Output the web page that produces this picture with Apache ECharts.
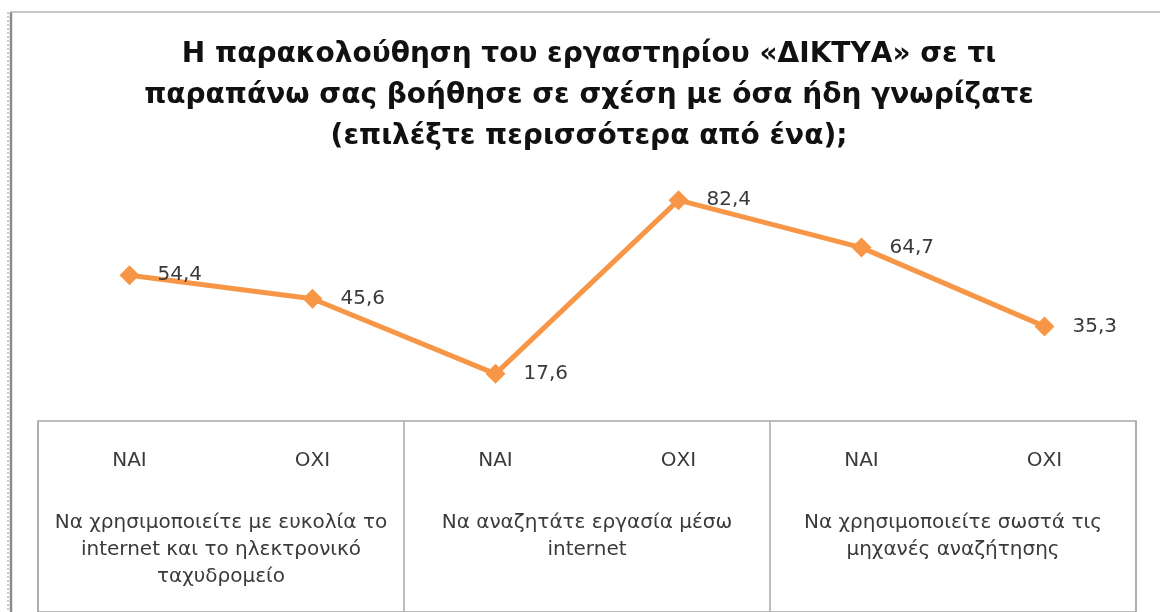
<!DOCTYPE html>
<html>
<head>
<meta charset="utf-8">
<script src="https://cdn.jsdelivr.net/npm/echarts@6/dist/echarts.min.js"></script>
<style>
  html, body { margin: 0; padding: 0; background: #fff; }
  #chart { width: 1160px; height: 612px; }
</style>
</head>
<body>
<div id="chart"></div>
<script>
"use strict";

// δεδομένα
var answers = ["ΝΑΙ", "ΟΧΙ", "ΝΑΙ", "ΟΧΙ", "ΝΑΙ", "ΟΧΙ"];
var groups = [
  "Να χρησιμοποιείτε με ευκολία το\ninternet και το ηλεκτρονικό\nταχυδρομείο",
  "Να αναζητάτε εργασία μέσω\ninternet",
  "Να χρησιμοποιείτε σωστά τις\nμηχανές αναζήτησης"
];
var percents = [54.4, 45.6, 17.6, 82.4, 64.7, 35.3];
var titleText = "Η παρακολούθηση του εργαστηρίου «ΔΙΚΤΥΑ» σε τι\nπαραπάνω σας βοήθησε σε σχέση με όσα ήδη γνωρίζατε\n(επιλέξτε περισσότερα από ένα);";

var chart = echarts.init(document.getElementById("chart"));
var font = "'DejaVu Sans', sans-serif";

var option = {
  backgroundColor: "#fff",
  animation: false,
  title: {
    text: titleText,
    left: 584,
    top: 29,
    textAlign: "center",
    textStyle: {
      fontFamily: font,
      fontSize: 28,
      fontWeight: "bold",
      lineHeight: 41,
      color: "#111"
    }
  },
  graphic: [
    // πλαίσιο αριστερά / πάνω
    { type: "line", shape: { x1: 8, y1: 12, x2: 8, y2: 612 }, style: { stroke: "#c8c8c8", lineWidth: 2, lineDash: [2, 2] } },
    { type: "line", shape: { x1: 11, y1: 12, x2: 11, y2: 612 }, style: { stroke: "#8a8a8a", lineWidth: 2.5 } },
    { type: "line", shape: { x1: 10, y1: 12, x2: 1160, y2: 12 }, style: { stroke: "#b4b4b4", lineWidth: 1.5 } }
  ],
  grid: [
    { left: 38, right: 24, top: 153, bottom: 191 },
    // πίνακας κάτω
    { left: 38, right: 24, top: 421, bottom: -4, show: true, borderColor: "#a8a8a8", borderWidth: 1.5 }
  ],
  xAxis: [
    {
      type: "category",
      gridIndex: 0,
      data: answers,
      boundaryGap: true,
      axisLine: { show: false },
      axisTick: { show: false },
      axisLabel: {
        interval: 0,
        margin: 30,
        fontFamily: font,
        fontSize: 20,
        color: "#3a3a3a"
      }
    },
    {
      type: "category",
      gridIndex: 0,
      data: groups,
      position: "bottom",
      axisLine: { show: false },
      axisTick: { show: false },
      axisLabel: {
        interval: 0,
        hideOverlap: false,
        margin: 88,
        fontFamily: font,
        fontSize: 20,
        lineHeight: 27,
        color: "#3a3a3a",
        verticalAlign: "top"
      }
    },
    {
      type: "category",
      gridIndex: 1,
      data: groups,
      axisLine: { show: false },
      axisTick: { show: false },
      axisLabel: { show: false },
      splitLine: { show: true, interval: 0, lineStyle: { color: "#a8a8a8", width: 1.5 } }
    }
  ],
  yAxis: [
    { type: "value", gridIndex: 0, min: 0, max: 100, show: false },
    { type: "value", gridIndex: 1, show: false }
  ],
  series: [{
    type: "line",
    xAxisIndex: 0,
    yAxisIndex: 0,
    data: percents,
    symbol: "diamond",
    symbolSize: 20,
    lineStyle: { color: "#f79646", width: 5 },
    itemStyle: { color: "#f79646" },
    label: {
      show: true,
      position: "right",
      distance: 18,
      fontFamily: font,
      fontSize: 20,
      color: "#3a3a3a",
      formatter: function (p) {
        return String(p.value).replace(".", ",");
      }
    }
  }]
};

chart.setOption(option);
</script>
</body>
</html>
